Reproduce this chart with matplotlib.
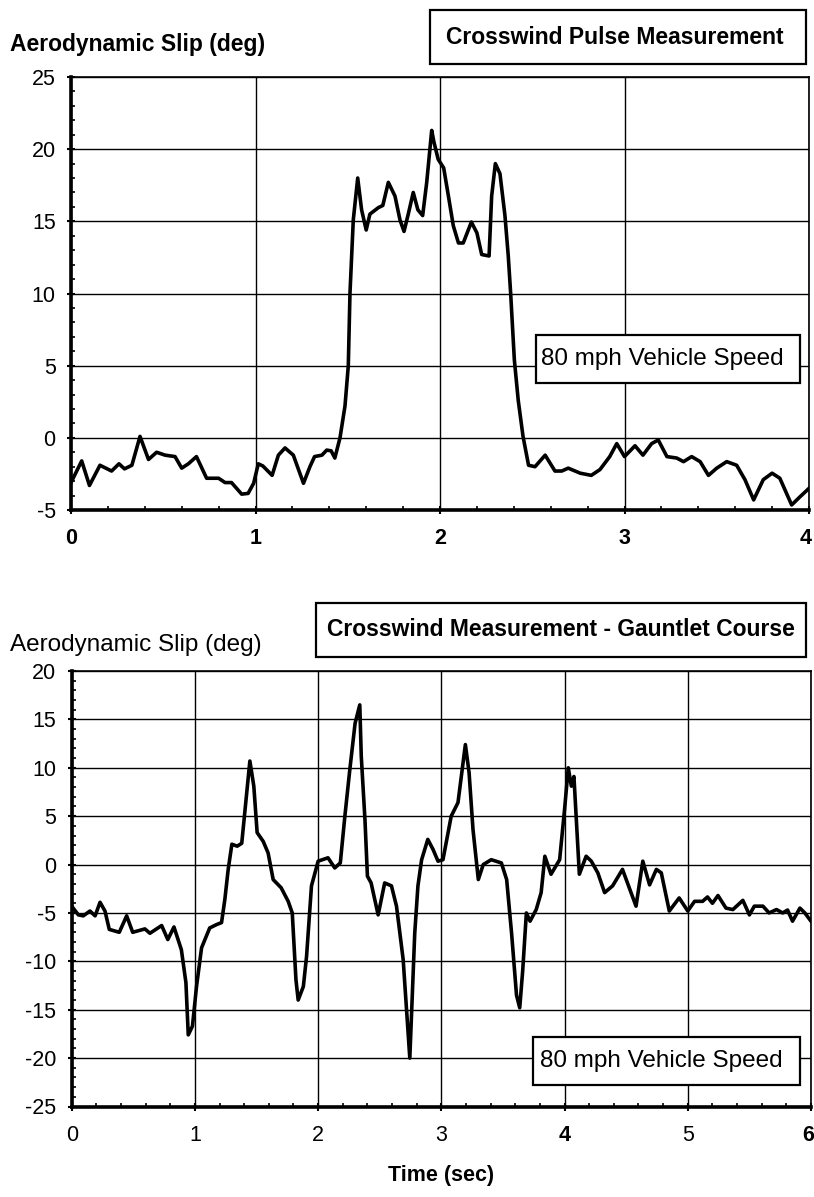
import numpy as np
import matplotlib
matplotlib.use("Agg")
from matplotlib import pyplot as plt
from matplotlib.patches import Rectangle
from matplotlib.ticker import MultipleLocator

plt.rcParams['font.family'] = ['Liberation Sans', 'DejaVu Sans']
plt.rcParams['axes.unicode_minus'] = False

# ---- Crosswind pulse (top) ----
pulse_time = [0.0, 0.058, 0.10, 0.157, 0.22, 0.26, 0.29, 0.33, 0.374, 0.42,
              0.464, 0.51, 0.564, 0.60, 0.636, 0.68, 0.735, 0.80, 0.835, 0.87,
              0.925, 0.96, 0.99, 1.015, 1.04, 1.09, 1.124, 1.16, 1.205, 1.26,
              1.295, 1.32, 1.36, 1.386, 1.41, 1.43, 1.458, 1.485, 1.503, 1.512,
              1.53, 1.554, 1.575, 1.60, 1.62, 1.666, 1.69, 1.72, 1.756, 1.783,
              1.805, 1.828, 1.855, 1.88, 1.906, 1.928, 1.955, 1.967, 1.99, 2.02,
              2.045, 2.072, 2.10, 2.126, 2.17, 2.20, 2.226, 2.266, 2.28, 2.30,
              2.325, 2.352, 2.37, 2.383, 2.403, 2.424, 2.45, 2.48, 2.515, 2.57,
              2.623, 2.66, 2.695, 2.76, 2.82, 2.867, 2.92, 2.958, 3.0, 3.057,
              3.10, 3.147, 3.183, 3.23, 3.283, 3.32, 3.364, 3.41, 3.455, 3.5,
              3.554, 3.608, 3.653, 3.70, 3.752, 3.80, 3.842, 3.906, 3.95, 4.0]
pulse_slip = [-3.1, -1.6, -3.3, -1.9, -2.3, -1.8, -2.15, -1.9, 0.1, -1.5,
              -1.0, -1.2, -1.3, -2.1, -1.8, -1.3, -2.8, -2.8, -3.1, -3.1,
              -3.9, -3.85, -3.15, -1.8, -1.95, -2.6, -1.2, -0.7, -1.2, -3.15,
              -2.0, -1.3, -1.2, -0.85, -0.9, -1.4, 0.0, 2.2, 5.0, 10.0,
              15.1, 18.0, 15.8, 14.4, 15.5, 15.95, 16.1, 17.7, 16.75, 15.1,
              14.3, 15.5, 17.0, 15.8, 15.4, 17.7, 21.3, 20.5, 19.3, 18.7,
              16.8, 14.7, 13.5, 13.5, 14.95, 14.2, 12.7, 12.6, 16.75, 19.0,
              18.3, 15.4, 12.6, 10.0, 5.4, 2.6, 0.1, -1.9, -2.0, -1.2,
              -2.3, -2.3, -2.1, -2.45, -2.6, -2.2, -1.3, -0.4, -1.3, -0.55,
              -1.2, -0.4, -0.15, -1.3, -1.4, -1.65, -1.3, -1.65, -2.6, -2.1,
              -1.65, -1.9, -2.9, -4.3, -2.9, -2.45, -2.8, -4.65, -4.1, -3.5]
pulse_ticks = [0, 1, 2, 3, 4]

# ---- Gauntlet course (bottom) ----
gauntlet_time = [0.0, 0.054, 0.094, 0.148, 0.19, 0.23, 0.27, 0.305, 0.386, 0.446,
                 0.495, 0.594, 0.635, 0.73, 0.78, 0.83, 0.89, 0.927, 0.946, 0.98,
                 1.013, 1.054, 1.12, 1.176, 1.216, 1.243, 1.27, 1.30, 1.343, 1.38,
                 1.42, 1.446, 1.478, 1.505, 1.554, 1.594, 1.635, 1.70, 1.757, 1.79,
                 1.82, 1.838, 1.88, 1.906, 1.946, 2.0, 2.08, 2.135, 2.18, 2.217,
                 2.257, 2.30, 2.338, 2.35, 2.38, 2.40, 2.43, 2.487, 2.54, 2.595,
                 2.636, 2.69, 2.744, 2.784, 2.81, 2.84, 2.89, 2.933, 2.973, 3.013,
                 3.08, 3.135, 3.195, 3.225, 3.257, 3.30, 3.34, 3.405, 3.487, 3.53,
                 3.57, 3.61, 3.636, 3.66, 3.69, 3.72, 3.77, 3.81, 3.84, 3.89,
                 3.96, 4.0, 4.03, 4.055, 4.076, 4.095, 4.12, 4.175, 4.217, 4.27,
                 4.325, 4.39, 4.47, 4.58, 4.635, 4.69, 4.745, 4.785, 4.85, 4.93,
                 5.0, 5.055, 5.12, 5.16, 5.20, 5.245, 5.31, 5.366, 5.447, 5.50,
                 5.54, 5.61, 5.66, 5.72, 5.77, 5.81, 5.85, 5.91, 5.95, 6.0]
gauntlet_slip = [-4.3, -5.2, -5.3, -4.8, -5.3, -3.9, -4.8, -6.7, -7.0, -5.3,
                 -7.0, -6.65, -7.1, -6.3, -7.75, -6.45, -8.8, -12.2, -17.6, -16.7,
                 -12.6, -8.6, -6.55, -6.2, -6.0, -3.6, -0.5, 2.1, 1.9, 2.2,
                 7.4, 10.7, 8.1, 3.3, 2.4, 1.2, -1.55, -2.4, -3.8, -5.0,
                 -11.9, -14.0, -12.6, -9.5, -2.2, 0.35, 0.7, -0.35, 0.17, 5.0,
                 9.8, 14.6, 16.5, 11.2, 4.65, -1.2, -1.9, -5.2, -1.9, -2.2,
                 -4.3, -9.8, -20.0, -7.1, -2.2, 0.5, 2.6, 1.55, 0.35, 0.5,
                 5.0, 6.4, 12.4, 9.5, 3.6, -1.55, 0.0, 0.5, 0.17, -1.55,
                 -7.1, -13.5, -14.8, -11.0, -5.0, -5.85, -4.65, -2.9, 0.86, -1.0,
                 0.5, 5.7, 10.0, 8.1, 9.1, 4.65, -1.0, 0.86, 0.35, -0.86,
                 -2.9, -2.2, -0.5, -4.3, 0.35, -2.1, -0.5, -0.86, -4.8, -3.45,
                 -4.8, -3.8, -3.8, -3.35, -4.0, -3.2, -4.5, -4.65, -3.7, -5.2,
                 -4.3, -4.3, -5.0, -4.65, -5.0, -4.7, -5.85, -4.5, -5.0, -5.85]
gauntlet_ticks = [0, 1, 2, 3, 4, 5, 6]

W, H = 814, 1197
fig = plt.figure(figsize=(W / 100, H / 100), dpi=100)


def frac(x0, y0, x1, y1):
    # pixel box (top-left origin) -> figure fraction rect
    return [x0 / W, 1 - y1 / H, (x1 - x0) / W, (y1 - y0) / H]


def style_axes(ax, ticks, ymin, ymax, bold_ticks):
    ax.set_xlim(ticks[0], ticks[-1])
    ax.set_ylim(ymin, ymax)
    ax.set_xticks(ticks)
    # last label is drawn separately so it stays inside the picture
    ax.set_xticklabels([str(t) for t in ticks[:-1]] + [''])
    for lab in ax.get_xticklabels():
        if lab.get_text() in bold_ticks:
            lab.set_fontweight('bold')
    ax.annotate(str(ticks[-1]), (ticks[-1], ymin), xytext=(2, -13),
                textcoords='offset points', ha='right', va='top', fontsize=15.5,
                fontweight='bold' if str(ticks[-1]) in bold_ticks else 'normal',
                annotation_clip=False)
    ax.yaxis.set_major_locator(MultipleLocator(5))
    ax.xaxis.set_minor_locator(MultipleLocator(0.2))
    ax.yaxis.set_minor_locator(MultipleLocator(1))
    ax.grid(True, which='major', color='black', linewidth=1.0)
    for side in ['left', 'bottom']:
        ax.spines[side].set_linewidth(2.6)
    for side in ['top', 'right']:
        ax.spines[side].set_linewidth(1.2)
    ax.tick_params(which='major', direction='inout', length=6, width=1.5,
                   labelsize=15.5, pad=8)
    ax.tick_params(which='minor', direction='in', length=3, width=1.2)
    ax.tick_params(axis='x', which='major', pad=10)


def boxed_text(x0, y0, x1, y1, text, tx, weight='normal', size=15):
    fig.add_artist(Rectangle((x0 / W, 1 - y1 / H), (x1 - x0) / W, (y1 - y0) / H,
                             transform=fig.transFigure, facecolor='white',
                             edgecolor='black', linewidth=1.6, zorder=5))
    fig.text(tx / W, 1 - (y0 + y1) / 2 / H, text, ha='left', va='center',
             fontsize=size, fontweight=weight, zorder=6)


# top chart
ax1 = fig.add_axes(frac(71, 77, 809, 510))
ax1.plot(pulse_time, pulse_slip, color='black', linewidth=2.6, zorder=3)
style_axes(ax1, pulse_ticks, -5, 25, bold_ticks=['0', '1', '2', '3', '4'])

fig.text(10 / W, 1 - 44 / H, 'Aerodynamic Slip (deg)', fontsize=16.5,
         fontweight='bold', ha='left', va='center')
boxed_text(430, 10, 806, 64, 'Crosswind Pulse Measurement', 446, weight='bold',
           size=16.5)
boxed_text(536, 335, 800, 383, '80 mph Vehicle Speed', 541, size=17.5)

# bottom chart
ax2 = fig.add_axes(frac(71.7, 671, 811, 1106.5))
ax2.plot(gauntlet_time, gauntlet_slip, color='black', linewidth=2.6, zorder=3)
style_axes(ax2, gauntlet_ticks, -25, 20, bold_ticks=['4', '6'])
ax2.set_xlabel('Time (sec)', fontsize=15.5, fontweight='bold', labelpad=14)

fig.text(10 / W, 1 - 645 / H, 'Aerodynamic Slip (deg)', fontsize=17.5,
         ha='left', va='center')
boxed_text(316, 603, 806, 657, 'Crosswind Measurement - Gauntlet Course', 327,
           weight='bold', size=16.5)
boxed_text(533, 1037, 800, 1085, '80 mph Vehicle Speed', 540, size=17.5)

fig.savefig('out.png', dpi=100)
